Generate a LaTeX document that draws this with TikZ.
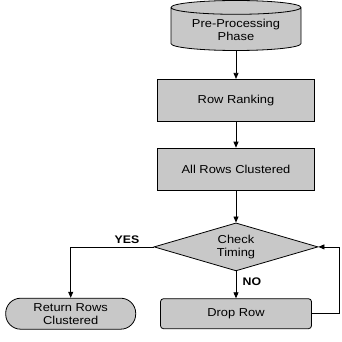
\documentclass[tikz,border=0pt]{standalone}
\usepackage{fontspec}
\setmainfont{Liberation Sans}[FakeStretch=1.12]
\usetikzlibrary{arrows.meta,positioning,shapes.geometric}
\definecolor{boxgray}{RGB}{200,200,200}

\begin{document}
\begin{tikzpicture}[
  box/.style={draw, fill=boxgray, thick, align=center, minimum width=157pt, minimum height=42pt, font=\fontsize{11.5}{13}\selectfont},
  arr/.style={-{Triangle[width=5pt,length=6pt]}, thick},
  lbl/.style={font=\fontsize{11}{12}\selectfont\bfseries}
]
\useasboundingbox (0,0) rectangle (341pt,-342pt);

\node[box, cylinder, shape border rotate=90, aspect=0.15, minimum width=130pt, minimum height=50pt, inner sep=2pt] (pre) at (236pt,-30pt) {Pre-Processing\\Phase};
\node[box, below=28pt of pre] (rank) {Row Ranking};
\node[box, below=26pt of rank] (clus) {All Rows Clustered};
\node[box, diamond, aspect=3.4, minimum width=164pt, minimum height=48pt, inner sep=0pt, below=32pt of clus] (check) {Check\\Timing};
\node[box, rounded corners=3pt, minimum width=151pt, minimum height=30pt, below=27pt of check] (drop) {Drop Row};
\node[box, rounded corners=15pt, minimum width=130pt, minimum height=31pt, left=24pt of drop] (ret) {Return Rows\\Clustered};

\draw[arr] (pre) -- (rank);
\draw[arr] (rank) -- (clus);
\draw[arr] (clus) -- (check);
\draw[arr] (check.west) -| node[lbl, pos=0.16, above] {YES} (ret.north);
\draw[arr] (check.south) -- node[lbl, pos=0.4, right=3pt] {NO} (drop.north);
\draw[arr] (drop.east) -- ++(27pt,0) |- (check.east);

\end{tikzpicture}
\end{document}
